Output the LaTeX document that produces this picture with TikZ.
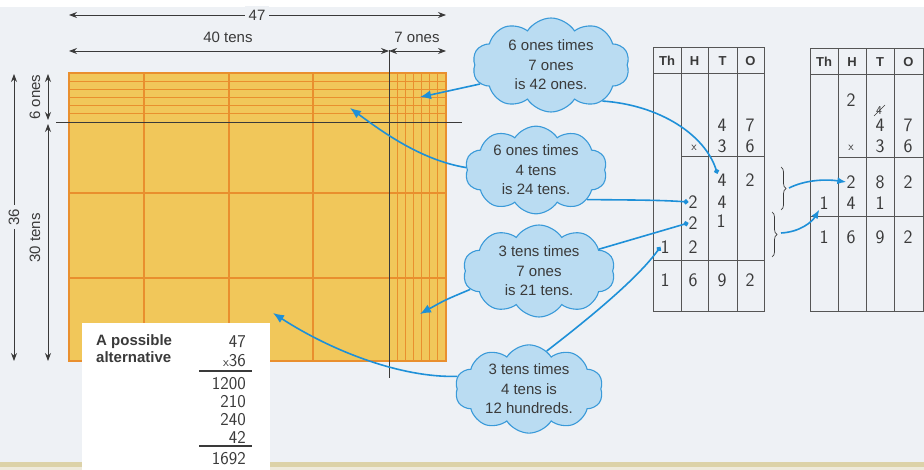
\documentclass[tikz,border=0pt]{standalone}
\usepackage{fontspec}
\setmainfont{Liberation Sans}
\usetikzlibrary{shapes.symbols,arrows.meta,decorations.pathreplacing}
\definecolor{bgcol}{HTML}{EEF1F5}
\definecolor{band}{HTML}{DCD2A8}
\definecolor{bandlight}{HTML}{EEEADB}
\definecolor{gridfill}{HTML}{F1C75A}
\definecolor{orangeline}{HTML}{E98F2E}
\definecolor{cloudfill}{HTML}{BADCF2}
\definecolor{cloudedge}{HTML}{3A9AD9}
\definecolor{linkblue}{HTML}{1E90D8}
\definecolor{dark}{HTML}{3A3A3A}
\definecolor{tabgray}{HTML}{555555}
\begin{document}
\begin{tikzpicture}[x=1pt,y=-1pt,
 dimline/.style={draw=dark,line width=0.8pt},
 dimarrow/.style={dimline,{Stealth[length=8pt,width=6pt]}-{Stealth[length=8pt,width=6pt]}},
 lbl/.style={font=\fontsize{15}{18}\selectfont,text=dark,inner sep=1pt},
 bubble/.style={cloud,cloud puffs=10,cloud puff arc=115,cloud ignores aspect,draw=cloudedge,fill=cloudfill,line width=1.1pt,align=center,font=\fontsize{15}{19.5}\selectfont,text=dark,inner sep=0pt},
 link/.style={draw=linkblue,line width=1.6pt},
 linkarrow/.style={link,-{Latex[length=11pt,width=9pt]}},
 smallarrow/.style={link,-{Latex[length=9pt,width=7pt]}},
 linkdot/.style={link,-{Circle[length=5pt]}},
 hd/.style={font=\bfseries\fontsize{13}{15}\selectfont,text=dark,inner sep=0pt},
 dg/.style={font=\sffamily\fontsize{19}{22}\selectfont,text=dark,inner sep=0pt},
 ag/.style={font=\sffamily\fontsize{18}{18}\selectfont,text=dark,inner sep=0pt,anchor=east},
 tline/.style={draw=tabgray,line width=1pt},
 orl/.style={draw=orangeline,line width=1.2pt},
 blk/.style={draw=dark,line width=0.8pt}
]
% background
\fill[bgcol] (0,0) rectangle (924,470);
\fill[white] (0,0) rectangle (924,7);
\fill[band] (0,462) rectangle (924,467);
\fill[bandlight] (0,467) rectangle (924,470);

% grid
\fill[gridfill] (69,73) rectangle (446,361);
\foreach \k in {1,...,5} \draw[orl] (69,{73+\k*49/6}) -- (446,{73+\k*49/6});
\foreach \yy in {193,278} \draw[orl] (69,\yy) -- (446,\yy);
\foreach \xx in {144,229,313} \draw[orl] (\xx,73) -- (\xx,361);
\foreach \k in {1,...,6} \draw[orl] ({389+\k*57/7},73) -- ({389+\k*57/7},361);
\draw[orl] (69,73) rectangle (446,361);
\draw[blk] (56,122) -- (462,122);
\draw[blk] (389,50) -- (389,378);

% dimensions
\coordinate (h47a) at (69,15); \coordinate (h47b) at (446,15);
\draw[dimarrow] (h47a) -- (h47b);
\node[lbl,fill=bgcol,inner sep=4pt] (l47) at (257,15) {47};
\coordinate (h40a) at (69,51); \coordinate (h40b) at (389,51); \coordinate (h7b) at (446,51);
\draw[dimarrow] (h40a) -- (h40b);
\draw[dimarrow] (h40b) -- (h7b);
\node[lbl] (l40) at (228,37) {40 tens};
\node[lbl] (l7) at (417,37) {7 ones};
\coordinate (v36a) at (14,74); \coordinate (v36b) at (14,361);
\draw[dimarrow] (v36a) -- (v36b);
\node[lbl,fill=bgcol,inner sep=4pt,rotate=90] (l36) at (14,217) {36};
\coordinate (v6a) at (48,74); \coordinate (v6b) at (48,120);
\coordinate (v30a) at (48,124); \coordinate (v30b) at (48,361);
\draw[dimarrow] (v6a) -- (v6b);
\draw[dimarrow] (v30a) -- (v30b);
\node[lbl,rotate=90] (l6) at (35,97) {6 ones};
\node[lbl,rotate=90] (l30) at (35,238) {30 tens};

% alternative box
\fill[white] (82,323) rectangle (270,470);
\node[font=\bfseries\fontsize{15}{17.5}\selectfont,text=dark,align=left,anchor=north west,inner sep=0pt] (alt) at (96,334) {A possible\\alternative};
\node[ag] (a1) at (246,342) {47};
\node[ag] (a2) at (246,361) {{\fontsize{13}{13}\selectfont x}36};
\draw[draw=dark,line width=1.5pt] (199,371) -- (252,371);
\node[ag] (a3) at (246,384) {1200};
\node[ag] (a4) at (246,402) {210};
\node[ag] (a5) at (246,420) {240};
\node[ag] (a6) at (246,437) {42};
\draw[draw=dark,line width=1.5pt] (199,446) -- (252,446);
\node[ag] (a7) at (246,459) {1692};

% clouds
\node[bubble,minimum width=157pt,minimum height=94pt] (c1) at (551,65) {6 ones times\\7 ones\\is 42 ones.};
\node[bubble,minimum width=142pt,minimum height=85pt] (c2) at (536,170) {6 ones times\\4 tens\\is 24 tens.};
\node[bubble,minimum width=152pt,minimum height=92pt] (c3) at (539,271) {3 tens times\\7 ones\\is 21 tens.};
\node[bubble,minimum width=148pt,minimum height=88pt] (c4) at (529,389) {3 tens times\\4 tens is\\12 hundreds.};

% table 1
\draw[tline] (653,48) rectangle (764,312);
\draw[tline] (653,74) -- (764,74);
\foreach \xx in {681,708,737} \draw[tline] (\xx,48) -- (\xx,312);
\draw[tline] (681,157) -- (764,157);
\draw[tline] (653,261) -- (764,261);
\node[hd] (t1hTh) at (667,61) {Th};
\node[hd] (t1hH) at (694.5,61) {H};
\node[hd] (t1hT) at (722.5,61) {T};
\node[hd] (t1hO) at (750.5,61) {O};
\node[dg] (t1r1T) at (722,125) {4};
\node[dg] (t1r1O) at (750,125) {7};
\node[dg,font=\sffamily\fontsize{12}{12}\selectfont] (t1x) at (694,148) {x};
\node[dg] (t1r2T) at (722,146) {3};
\node[dg] (t1r2O) at (750,146) {6};
\node[dg] (t1T4) at (722,180) {4};
\node[dg] (t1O2) at (750,180) {2};
\node[dg] (t1H2a) at (693,202) {2};
\node[dg] (t1T4b) at (722,202) {4};
\node[dg] (t1H2b) at (693,223) {2};
\node[dg] (t1T1) at (721,221) {1};
\node[dg] (t1Th1) at (665,247) {1};
\node[dg] (t1H2c) at (693,247) {2};
\node[dg] (t1s1) at (665,280) {1};
\node[dg] (t1s2) at (693,280) {6};
\node[dg] (t1s3) at (722,280) {9};
\node[dg] (t1s4) at (750,280) {2};

% table 2
\draw[tline] (810,49) rectangle (923,312);
\draw[tline] (810,75) -- (923,75);
\foreach \xx in {838,866,894} \draw[tline] (\xx,49) -- (\xx,312);
\draw[tline] (838,158) -- (923,158);
\draw[tline] (810,217) -- (923,217);
\node[hd] (t2hTh) at (824,62) {Th};
\node[hd] (t2hH) at (852,62) {H};
\node[hd] (t2hT) at (880,62) {T};
\node[hd] (t2hO) at (908.5,62) {O};
\node[dg] (t2c2) at (851,100) {2};
\node[dg,font=\sffamily\fontsize{12}{12}\selectfont] (t2x4) at (879,111) {4};
\draw[draw=dark,line width=0.6pt] (874,116) -- (885,105);
\node[dg] (t2r1T) at (880,125) {4};
\node[dg] (t2r1O) at (908,125) {7};
\node[dg,font=\sffamily\fontsize{12}{12}\selectfont] (t2x) at (851,148) {x};
\node[dg] (t2r2T) at (880,146) {3};
\node[dg] (t2r2O) at (908,146) {6};
\node[dg] (t2H2) at (851,182) {2};
\node[dg] (t2T8) at (880,182) {8};
\node[dg] (t2O2) at (908,182) {2};
\node[dg] (t2Th1) at (824,203) {1};
\node[dg] (t2H4) at (851,203) {4};
\node[dg] (t2T1) at (880,203) {1};
\node[dg] (t2s1) at (824,237) {1};
\node[dg] (t2s2) at (851,237) {6};
\node[dg] (t2s3) at (880,237) {9};
\node[dg] (t2s4) at (908,237) {2};

% braces
\coordinate (br1a) at (781,167); \coordinate (br1b) at (781,210);
\coordinate (br2a) at (772,212); \coordinate (br2b) at (772,257);
\draw[draw=dark,line width=0.7pt,decorate,decoration={brace,amplitude=5pt}] (br1a) -- (br1b);
\draw[draw=dark,line width=0.7pt,decorate,decoration={brace,amplitude=5pt}] (br2a) -- (br2b);
\coordinate (b1) at (789,188);
\coordinate (b2) at (781,233);
\draw[smallarrow] (b1) .. controls (805,180) and (825,179) .. (t2H2.west);
\draw[smallarrow] (b2) .. controls (800,232) and (812,222) .. (t2Th1.south west);

% grid targets
\coordinate (g1) at (420,97);
\coordinate (g2) at (350,108);
\coordinate (g3) at (420,314);
\coordinate (g4) at (273,313);

% connectors
\draw[linkarrow] (c1.195) .. controls (455,90) .. (g1);
\draw[linkdot] (c1.-35) .. controls (660,105) and (705,135) .. (t1T4.north west);
\draw[linkarrow] (c2.178) .. controls (420,160) and (380,130) .. (g2);
\draw[linkdot] (c2.-30) .. controls (630,200) and (660,200) .. (t1H2a.west);
\draw[linkdot] (c3.20) -- (t1H2b.west);
\draw[linkarrow] (c3.195) .. controls (445,300) .. (g3);
\draw[linkdot] (c4.65) .. controls (600,310) and (640,275) .. (t1Th1.west);
\draw[linkarrow] (c4.170) .. controls (400,378) and (330,350) .. (g4);
\end{tikzpicture}
\end{document}
